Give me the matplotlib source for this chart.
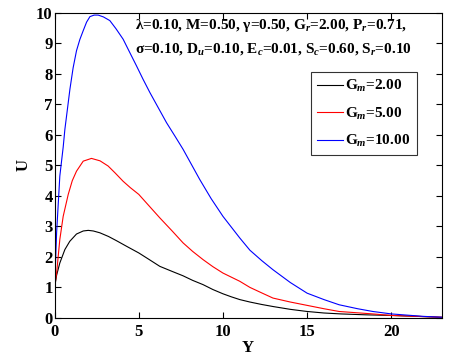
import matplotlib
matplotlib.use('Agg')
import matplotlib.pyplot as plt

plt.rcParams['font.family'] = 'Liberation Serif'
plt.rcParams['font.weight'] = 'bold'
plt.rcParams['mathtext.fontset'] = 'custom'
plt.rcParams['mathtext.rm'] = 'Liberation Serif:bold'
plt.rcParams['mathtext.it'] = 'Liberation Serif:bold:italic'
plt.rcParams['mathtext.bf'] = 'Liberation Serif:bold'

# values
y_black = [0, 0.12, 0.31, 0.61, 0.9, 1.3, 1.7, 2.0, 2.3, 2.69, 3.2, 3.68, 4.3, 5.0, 5.6, 6.25, 7.0, 7.63, 8.2, 8.82, 9.4, 10.0, 10.5, 11.0, 11.6, 12.3, 13.0, 14.0, 15.0, 16.0, 17.0, 18.5, 20.0, 21.5, 23.0]
u_black = [1.0, 1.4, 1.8, 2.24, 2.51, 2.75, 2.85, 2.87, 2.85, 2.79, 2.67, 2.53, 2.34, 2.13, 1.92, 1.69, 1.52, 1.38, 1.23, 1.09, 0.93, 0.79, 0.69, 0.6, 0.52, 0.44, 0.37, 0.28, 0.21, 0.16, 0.13, 0.1, 0.08, 0.05, 0.02]

y_red = [0, 0.12, 0.31, 0.51, 0.81, 1.05, 1.3, 1.7, 2.19, 2.7, 3.18, 3.6, 4.07, 4.5, 5.0, 5.6, 6.25, 7.0, 7.63, 8.2, 8.82, 9.4, 10.0, 11.0, 11.6, 12.3, 12.97, 14.0, 15.0, 16.0, 16.9, 18.9, 20.0, 21.5, 23.0]
u_red = [1.0, 1.47, 2.57, 3.33, 4.05, 4.5, 4.81, 5.14, 5.23, 5.15, 4.98, 4.75, 4.48, 4.27, 4.05, 3.68, 3.28, 2.84, 2.46, 2.18, 1.91, 1.68, 1.47, 1.2, 1.0, 0.82, 0.65, 0.52, 0.41, 0.3, 0.21, 0.13, 0.08, 0.05, 0.02]

y_blue = [0, 0.12, 0.31, 0.51, 0.61, 0.91, 1.1, 1.3, 1.5, 1.7, 1.9, 2.1, 2.35, 2.59, 2.9, 3.28, 3.65, 4.07, 4.45, 4.86, 5.25, 5.66, 6.15, 6.65, 7.15, 7.63, 8.1, 8.62, 9.3, 10.0, 11.0, 11.6, 12.3, 12.97, 14.0, 15.0, 16.0, 16.9, 18.0, 18.9, 20.0, 21.9, 23.0]
u_blue = [1.0, 2.8, 4.65, 5.6, 6.18, 7.5, 8.2, 8.76, 9.13, 9.42, 9.7, 9.88, 9.93, 9.93, 9.87, 9.75, 9.48, 9.14, 8.72, 8.27, 7.83, 7.39, 6.9, 6.4, 5.96, 5.53, 5.06, 4.54, 3.91, 3.33, 2.62, 2.22, 1.88, 1.58, 1.16, 0.81, 0.6, 0.43, 0.3, 0.21, 0.13, 0.05, 0.02]

labels = ['G$_m$=2.00', 'G$_m$=5.00', 'G$_m$=10.00']

fig = plt.figure(figsize=(4.55, 3.6), dpi=100)
ax = fig.add_axes([0.120, 0.117, 0.851, 0.847])

ax.plot(y_black, u_black, color='black', lw=0.8, label=labels[0])
ax.plot(y_red, u_red, color='red', lw=0.8, label=labels[1])
ax.plot(y_blue, u_blue, color='blue', lw=0.8, label=labels[2])

ax.set_xlim(0, 23)
ax.set_ylim(0, 10)
ax.set_xticks([0, 5, 10, 15, 20])
ax.set_yticks(range(0, 11))
ax.tick_params(direction='in', top=True, right=True, labelsize=12, length=4)
ax.tick_params(axis='x', pad=4.5)
ax.tick_params(axis='y', pad=1.5)
ax.set_xlabel('Y', fontsize=12, fontweight='bold', labelpad=0)
ax.set_ylabel('U', fontsize=12, fontweight='bold', labelpad=3)

ax.text(0.207, 0.986, r'λ=0.10, M=0.50, γ=0.50, G$_r$=2.00, P$_r$=0.71,',
        transform=ax.transAxes, fontsize=11, va='top', ha='left')
ax.text(0.207, 0.907, r'σ=0.10, D$_u$=0.10, E$_c$=0.01, S$_c$=0.60, S$_r$=0.10',
        transform=ax.transAxes, fontsize=11, va='top', ha='left')

leg = ax.legend(loc='upper right', bbox_to_anchor=(0.935, 0.807), fontsize=11,
                frameon=True, fancybox=False, edgecolor='black', handlelength=1.7,
                handletextpad=0.15, borderpad=0.4, labelspacing=0.75,
                borderaxespad=0)
leg.get_frame().set_linewidth(0.8)

fig.savefig('out.png', dpi=100)
